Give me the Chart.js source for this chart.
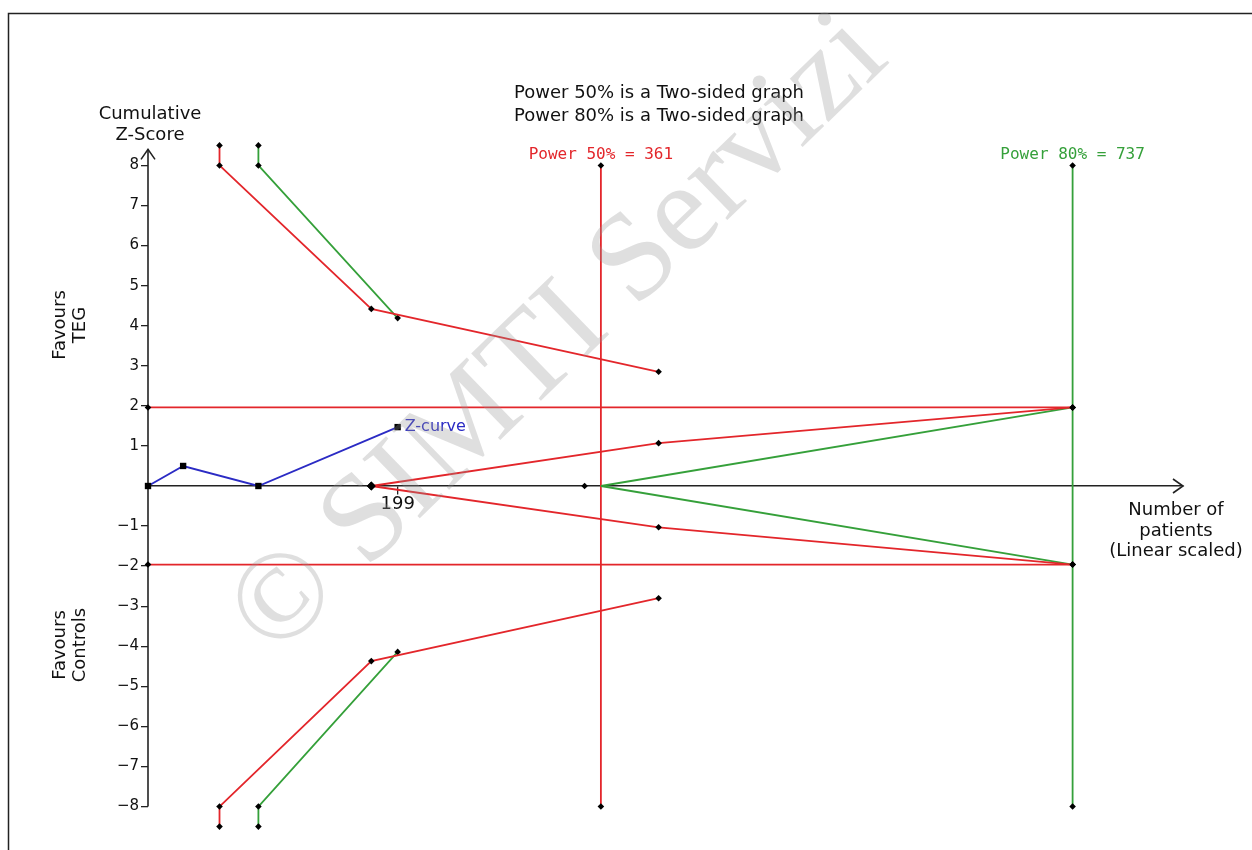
<!DOCTYPE html>
<html>
<head>
<meta charset="utf-8">
<script src="https://cdn.jsdelivr.net/npm/chart.js@4.4.1/dist/chart.umd.min.js"></script>
<style>
  html, body { margin: 0; padding: 0; background: #fff; }
  #wrap { width: 1252px; height: 850px; position: relative; }
</style>
</head>
<body>
<div id="wrap"><canvas id="tsaChart"></canvas></div>
<script>
// Trial sequential analysis
// x = number of patients, y = cumulative z-score
const zCurveN = [0, 28, 88, 199];
const zCurveZ = [0, 0.5, 0, 1.47];

// red monitoring boundaries (power 50%)
const bound50N = [57, 57, 178, 407];
const bound50Upper = [8.5, 8, 4.42, 2.85];
const bound50Lower = [-8.5, -8, -4.37, -2.8];

// green monitoring boundaries (power 80%)
const bound80N = [88, 88, 199];
const bound80Upper = [8.5, 8, 4.19];
const bound80Lower = [-8.5, -8, -4.14];

// inner wedges
const wedge50N = [178, 407, 737];
const wedge50Upper = [0, 1.07, 1.96];
const wedge50Lower = [0, -1.03, -1.96];
const wedge80N = [361, 737];
const wedge80Upper = [0, 1.96];
const wedge80Lower = [0, -1.96];

const conventionalZ = [1.96, -1.96];
const conventionalN = [0, 737];
const infoSize50 = 361;
const infoSize80 = 737;
const verticalZ = [-8, 8];
const loneMarkerN = [348];
const loneMarkerZ = [0];

// axis extents
const yAxisZ = [-8, 8.4];
const yTicks = [-8, -7, -6, -5, -4, -3, -2, -1, 1, 2, 3, 4, 5, 6, 7, 8];
const xTicks = [199];

const RED = '#e3262b';
const GREEN = '#35a03a';
const BLUE = '#2b2bc4';

const pts = (xs, ys) => xs.map((x, i) => ({ x: x, y: ys[i] }));

function boundary(data, color, extra) {
  return Object.assign({
    data: data,
    showLine: true,
    borderColor: color,
    borderWidth: 1.8,
    pointStyle: 'rectRot',
    pointRadius: 3.3,
    pointBackgroundColor: '#000',
    pointBorderColor: '#000',
    pointBorderWidth: 0,
    clip: false
  }, extra || {});
}

const decorations = {
  id: 'decorations',
  beforeDraw(chart) {
    const c = chart.ctx;
    c.save();
    c.strokeStyle = '#222';
    c.lineWidth = 1.5;
    c.beginPath();
    c.moveTo(8.5, 850);
    c.lineTo(8.5, 13.5);
    c.lineTo(1252, 13.5);
    c.stroke();
    c.restore();
  },
  afterDraw(chart) {
    const c = chart.ctx;
    const xs = chart.scales.x;
    const ys = chart.scales.y;
    const x0 = xs.getPixelForValue(0);
    const y0 = ys.getPixelForValue(0);
    const yTop = ys.getPixelForValue(yAxisZ[1]);
    const area = chart.chartArea;

    c.save();
    // arrow heads
    c.strokeStyle = '#222';
    c.lineWidth = 1.6;
    c.beginPath();
    c.moveTo(x0 - 7, yTop + 10);
    c.lineTo(x0, yTop);
    c.lineTo(x0 + 7, yTop + 10);
    c.moveTo(area.right - 10, y0 - 7);
    c.lineTo(area.right, y0);
    c.lineTo(area.right - 10, y0 + 7);
    c.stroke();

    c.fillStyle = '#111';
    c.textAlign = 'center';
    c.textBaseline = 'middle';
    c.font = '18px "DejaVu Sans"';
    c.fillText('Power 50% is a Two-sided graph', 659, 93);
    c.fillText('Power 80% is a Two-sided graph', 659, 116);
    c.fillText('Cumulative', 150, 114);
    c.fillText('Z-Score', 150, 135);
    c.fillText('Number of', 1176, 510);
    c.fillText('patients', 1176, 531);
    c.fillText('(Linear scaled)', 1176, 551);

    const rotated = (lines, cx, cy) => {
      c.save();
      c.translate(cx, cy);
      c.rotate(-Math.PI / 2);
      c.fillText(lines[0], 0, -10);
      c.fillText(lines[1], 0, 10);
      c.restore();
    };
    rotated(['Favours', 'TEG'], 70, 325);
    rotated(['Favours', 'Controls'], 70, 645);

    c.font = '16px "DejaVu Sans Mono"';
    c.fillStyle = RED;
    c.fillText('Power 50% = ' + infoSize50, xs.getPixelForValue(infoSize50), 155);
    c.fillStyle = GREEN;
    c.fillText('Power 80% = ' + infoSize80, xs.getPixelForValue(infoSize80), 155);

    c.font = '16px "DejaVu Sans"';
    c.fillStyle = BLUE;
    c.textAlign = 'left';
    c.fillText('Z-curve', xs.getPixelForValue(199) + 7, ys.getPixelForValue(1.47));

    // watermark of the source
    c.translate(292, 596);
    c.rotate(-0.77);
    c.font = '126px "Liberation Serif"';
    c.fillStyle = 'rgba(150,150,150,0.3)';
    c.textAlign = 'left';
    c.fillText('\u00a9 SIMTI Servizi', -56, 0);
    c.restore();
  }
};

new Chart(document.getElementById('tsaChart'), {
  type: 'scatter',
  data: {
    datasets: [
      {
        data: pts(zCurveN, zCurveZ),
        showLine: true,
        borderColor: BLUE,
        borderWidth: 1.9,
        pointStyle: 'rect',
        pointRadius: 4.5,
        pointBackgroundColor: '#000',
        pointBorderColor: '#000',
        pointBorderWidth: 0,
        clip: false
      },
      boundary(pts(loneMarkerN, loneMarkerZ), '#000', { showLine: false }),
      boundary(pts(bound50N, bound50Upper), RED),
      boundary(pts(bound50N, bound50Lower), RED),
      boundary(pts(bound80N, bound80Upper), GREEN),
      boundary(pts(bound80N, bound80Lower), GREEN),
      boundary(pts(wedge50N, wedge50Upper), RED, { pointRadius: [4.5, 3.3, 3.3] }),
      boundary(pts(wedge50N, wedge50Lower), RED, { pointRadius: [4.5, 3.3, 3.3] }),
      boundary(pts(wedge80N, wedge80Upper), GREEN, { pointRadius: [0, 3.3] }),
      boundary(pts(wedge80N, wedge80Lower), GREEN, { pointRadius: [0, 3.3] }),
      boundary(pts(conventionalN, [conventionalZ[0], conventionalZ[0]]), RED),
      boundary(pts(conventionalN, [conventionalZ[1], conventionalZ[1]]), RED),
      boundary(pts([infoSize50, infoSize50], verticalZ), RED),
      boundary(pts([infoSize80, infoSize80], verticalZ), GREEN),
      // y axis line, from -8 up to the arrow
      boundary(pts([0, 0], yAxisZ), '#222', { pointRadius: 0, borderWidth: 1.6 })
    ]
  },
  options: {
    responsive: true,
    maintainAspectRatio: false,
    animation: false,
    layout: {
      padding: { left: 106, right: 69, top: 143, bottom: 21 }
    },
    plugins: {
      legend: { display: false },
      tooltip: { enabled: false }
    },
    scales: {
      x: {
        type: 'linear',
        position: { y: 0 },
        min: 0,
        max: 825,
        afterBuildTicks: (scale) => { scale.ticks = xTicks.map(v => ({ value: v })); },
        ticks: {
          color: '#111',
          font: { family: 'DejaVu Sans', size: 18 },
          padding: 0,
          maxRotation: 0
        },
        grid: { drawOnChartArea: false, drawTicks: true, tickLength: 8, color: '#222', lineWidth: 1.3 },
        border: { display: true, color: '#222', width: 1.6 }
      },
      y: {
        type: 'linear',
        position: 'left',
        min: -8.56,
        max: 8.56,
        afterBuildTicks: (scale) => { scale.ticks = yTicks.map(v => ({ value: v })); },
        afterFit: (scale) => { scale.width = 42; },
        ticks: {
          color: '#111',
          font: { family: 'DejaVu Sans', size: 15 },
          padding: 2,
          callback: (v) => String(v).replace('-', '\u2212')
        },
        grid: { drawOnChartArea: false, drawTicks: true, tickLength: 7, color: '#222', lineWidth: 1.3 },
        border: { display: false }
      }
    }
  },
  plugins: [decorations]
});
</script>
</body>
</html>
